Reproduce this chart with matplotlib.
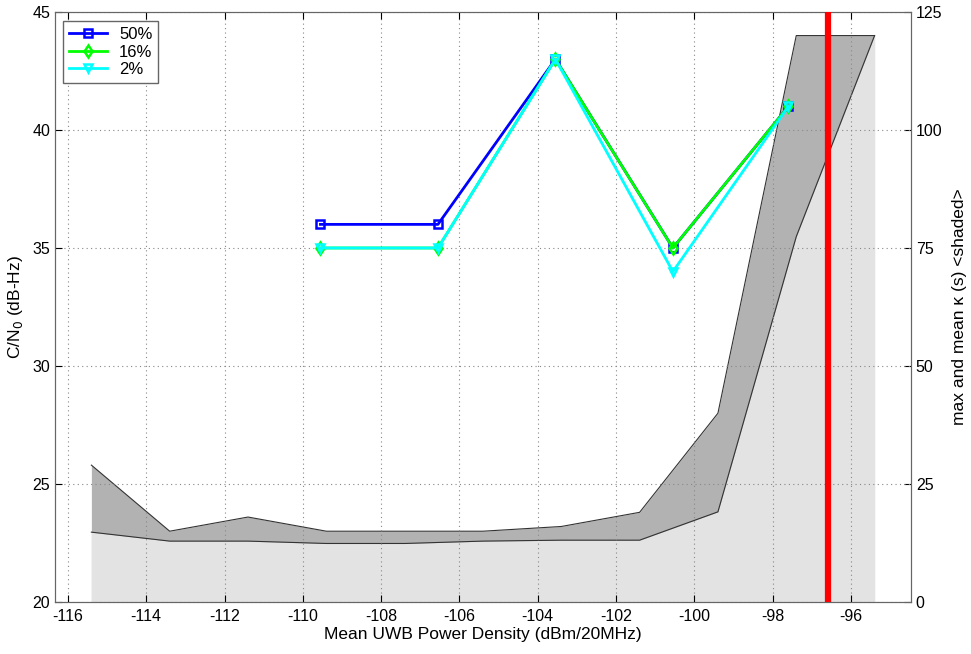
import numpy as np
import matplotlib
matplotlib.use('Agg')
import matplotlib.pyplot as plt

# ── Data ──
# shaded κ region (right axis, seconds)
KAPPA_X    = [-115.4, -113.4, -111.4, -109.4, -107.4, -105.4,
              -103.4, -101.4, -99.4, -97.4, -95.4]
KAPPA_MEAN = [14.8, 12.9, 12.9, 12.4, 12.4, 12.9, 13.1, 13.1, 19.1, 77.4, 120]
KAPPA_MAX  = [29, 15, 18, 15, 15, 15, 16, 19, 40, 120, 120]

# C/N0 thresholds (left axis)
PD_X   = [-109.55, -106.55, -103.55, -100.55, -97.6]
CN_50  = [36, 36, 43, 35, 41]
CN_16  = [35, 35, 43, 35, 41]
CN_2   = [35, 35, 43, 34, 41]

LIMIT_X = -96.6

# ── Style ──
plt.rcParams.update({
    'font.family': ['Liberation Sans', 'DejaVu Sans'],
    'font.size': 11.5,
    'axes.labelsize': 12.5,
    'xtick.direction': 'in',
    'ytick.direction': 'in',
    'axes.edgecolor': '#666666',
    'axes.unicode_minus': False,
})

fig = plt.figure(figsize=(9.71, 6.54), dpi=100)
ax = fig.add_axes([0.0566, 0.0795, 0.8816, 0.9022])
ax2 = ax.twinx()

# shading behind the lines
ax.set_zorder(ax2.get_zorder() + 1)
ax.patch.set_visible(False)

ax2.fill_between(KAPPA_X, 0, KAPPA_MAX, color='#b2b2b2', lw=0, zorder=1)
ax2.fill_between(KAPPA_X, 0, KAPPA_MEAN, color='#e3e3e3', lw=0, zorder=2)
ax2.plot(KAPPA_X, KAPPA_MAX, color='#333333', lw=0.8, zorder=3)
ax2.plot(KAPPA_X, KAPPA_MEAN, color='#333333', lw=0.8, zorder=3)
ax2.set_ylim(0, 125)
ax2.set_yticks([0, 25, 50, 75, 100, 125])
ax2.set_ylabel('max and mean \u03ba (s) <shaded>', labelpad=7)
ax2.tick_params(axis='y', direction='in', length=5)

# threshold lines
ax.plot(PD_X, CN_50, color='#0000ff', lw=2, marker='s', ms=6, mfc='none',
        mew=1.8, label='50%')
ax.plot(PD_X, CN_16, color='#00ff00', lw=2, marker='d', ms=6, mfc='none',
        mew=1.8, label='16%')
ax.plot(PD_X, CN_2, color='#00ffff', lw=2, marker='v', ms=6, mfc='none',
        mew=1.8, label='2%')

ax.axvline(LIMIT_X, color='#ff0000', lw=4.5, zorder=5)

ax.set_xlim(-116.33, -94.47)
ax.set_ylim(20, 45)
ax.set_xticks(np.arange(-116, -95, 2))
ax.set_yticks([20, 25, 30, 35, 40, 45])
ax.tick_params(top=True, length=5)
ax.tick_params(axis='x', pad=5)
ax.grid(True, linestyle=(0, (1, 3)), color='#888888', lw=0.8)

ax.set_xlabel('Mean UWB Power Density (dBm/20MHz)', labelpad=2.5)
ax.set_ylabel('C/N$_0$ (dB-Hz)', labelpad=5)

leg = ax.legend(loc='upper left', bbox_to_anchor=(0.0, 0.998),
                fancybox=False, framealpha=1, edgecolor='#666666',
                handlelength=2.3, borderpad=0.35, labelspacing=0.15,
                handletextpad=0.7, fontsize=12)
leg.get_frame().set_linewidth(1.0)

fig.savefig('out.png', dpi=100)
